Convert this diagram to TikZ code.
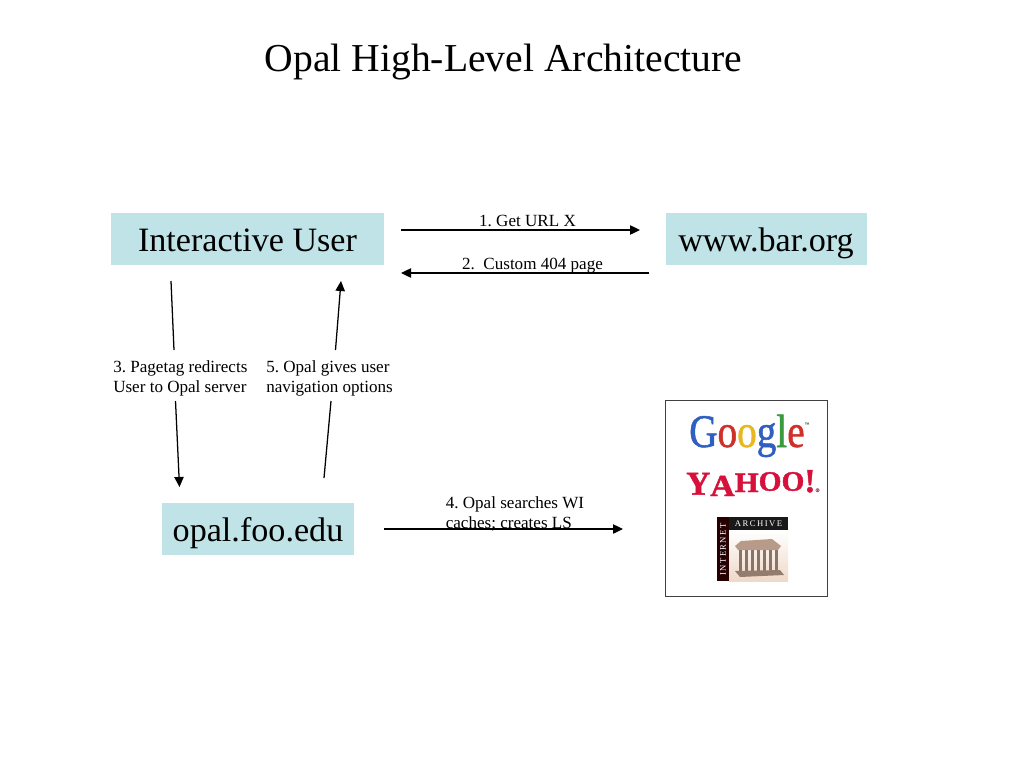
\documentclass[tikz,border=0pt]{standalone}
\usepackage{fontspec}
\setmainfont{Liberation Serif}
\newfontfamily\gfont[FakeBold=1.2]{Liberation Serif}
\newfontfamily\yfont[FakeBold=1.5]{Liberation Serif Bold}
\usetikzlibrary{arrows.meta}
\frenchspacing
\definecolor{boxfill}{HTML}{BFE3E6}
\definecolor{gblue}{HTML}{2F5FC0}
\definecolor{gred}{HTML}{D0302A}
\definecolor{gyellow}{HTML}{E8B820}
\definecolor{ggreen}{HTML}{3A9A40}
\definecolor{yred}{HTML}{D6123C}
\definecolor{temple}{HTML}{B89A88}
\definecolor{templelight}{HTML}{EFD9C8}
\newcommand{\yl}[4]{\raisebox{#1}{\scalebox{#2}[1]{\fontsize{#3}{#3}\selectfont #4}}}
\tikzset{
  x=0.75pt,y=-0.75pt,
  box/.style={fill=boxfill,inner sep=0pt,text height=18pt,text depth=0pt,font=\fontsize{25.6}{30}\selectfont},
  lab/.style={inner sep=0pt,font=\fontsize{12.8}{15.3}\selectfont,align=left},
  conn/.style={draw=black,line width=0.95pt,-{Triangle[length=7.5pt,width=7pt]}},
  plain/.style={draw=black,line width=0.95pt},
}
\begin{document}
\begin{tikzpicture}
\useasboundingbox (0,0) rectangle (1024,768);
\node[inner sep=0pt,font=\fontsize{29.7}{32}\selectfont] (title) at (503.5,62) {Opal High-Level Architecture};
% boxes
\node[box,minimum width=273.5pt*0.75,minimum height=52pt*0.75] (user) at (247.5,239) {Interactive User};
\node[box,minimum width=201pt*0.75,minimum height=52pt*0.75] (bar) at (766,239) {www.bar.org};
\node[box,minimum width=192pt*0.75,minimum height=52pt*0.75] (opal) at (258,529) {opal.foo.edu};
% labels
\node[lab] (l1) at (527.5,221) {1. Get URL X};
\node[lab] (l2) at (532.5,266) {2.\ \ Custom 404 page};
\node[lab,anchor=north west] (l3) at (113,360) {3. Pagetag redirects\\User to Opal server};
\node[lab,anchor=north west] (l5) at (266,360) {5. Opal gives user\\navigation options};
\node[lab,anchor=north west] (l4) at (445.5,496) {4. Opal searches WI\\caches; creates LS};
% connector ends
\coordinate (a1) at (401,230); \coordinate (b1) at (640,230);
\coordinate (a2) at (649,273); \coordinate (b2) at (401,273);
\coordinate (a3) at (171,281); \coordinate (b3) at (174,350);
\coordinate (c3) at (175.5,401); \coordinate (d3) at (179.5,487);
\coordinate (a5) at (324,478); \coordinate (b5) at (331,401);
\coordinate (c5) at (335.5,350); \coordinate (d5) at (341,281);
\coordinate (a4) at (384,529); \coordinate (b4) at (623,529);
\draw[conn] (a1) -- (b1);
\draw[conn] (a2) -- (b2);
\draw[plain] (a3) -- (b3);
\draw[conn] (c3) -- (d3);
\draw[plain] (a5) -- (b5);
\draw[conn] (c5) -- (d5);
\draw[conn] (a4) -- (b4);
% logo panel
\node[draw=black!75,line width=0.75pt,fill=white,minimum width=161.8pt*0.75,minimum height=196pt*0.75,inner sep=0pt] (panel) at (746.4,498.7) {};
% Google
\node[inner sep=0pt,anchor=base west] (google) at (689,447) {\gfont\fontsize{35}{35}\selectfont\scalebox{0.84}[1]{\textcolor{gblue}{G}\textcolor{gred}{o}\textcolor{gyellow}{o}\textcolor{gblue}{g}\textcolor{ggreen}{l}\textcolor{gred}{e}}\raisebox{16pt}{\textcolor{gray}{\fontsize{3.5}{4}\selectfont ™}}};
% Yahoo
\node[inner sep=0pt,anchor=base west,text=yred] (yahoo) at (686,492) {\yfont
  \yl{-2pt}{1.0}{25}{Y}\yl{-3pt}{1.1}{23}{A}\yl{0pt}{1.1}{21}{H}\yl{1pt}{1.05}{21}{O}\yl{1pt}{1.05}{21}{O}\yl{0pt}{1.0}{25}{!}\textcolor{gray!70!yred}{\fontsize{4}{4}\selectfont ®}};
% Internet Archive
\fill[black!85!red] (717,517) rectangle (729,581);
\fill[black!90] (729,517) rectangle (788,530);
\node[inner sep=0pt,text=white,font=\fontsize{6.5}{7}\selectfont] (ia1) at (758.5,523.5) {A\,R\,C\,H\,I\,V\,E};
\node[inner sep=0pt,text=white,rotate=90,font=\fontsize{6.5}{7}\selectfont] (ia2) at (723,549.5) {I\,N\,T\,E\,R\,N\,E\,T};
\shade[top color=white,bottom color=templelight] (729,530) rectangle (788,581);
\fill[temple] (735,546) -- (741,541) -- (772,539) -- (781,546) -- (778,550) -- (738,550) -- cycle;
\foreach \px in {739,745,751,757,763,769,775}
  \fill[temple!75!black] (\px,550) rectangle (\px+2.5,571);
\fill[temple!80!black] (735,571) -- (780,570) -- (784,575) -- (740,577) -- cycle;
\end{tikzpicture}
\end{document}
